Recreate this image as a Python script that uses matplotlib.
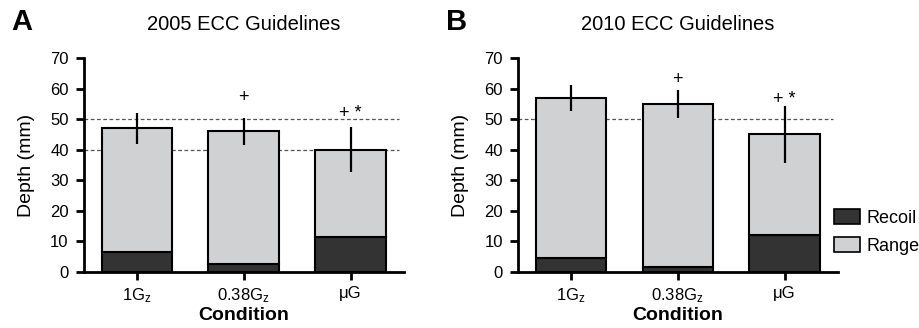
import matplotlib
matplotlib.use("Agg")
import matplotlib.pyplot as plt
from matplotlib.patches import Patch

plt.rcParams['font.family'] = ['Liberation Sans', 'DejaVu Sans']
plt.rcParams['mathtext.default'] = 'regular'

conditions = ['1G$_z$', '0.38G$_z$', 'μG']

# panel A: 2005 guidelines
total_2005 = [47, 46, 40]
recoil_2005 = [6.5, 2.5, 11.5]
err_2005 = [5, 4.5, 7.3]
marks_2005 = ['', '+', '+ *']
mark_y_2005 = [0, 57, 52]
guides_2005 = [40, 50]

# panel B: 2010 guidelines
total_2010 = [57, 55, 45]
recoil_2010 = [4.5, 1.5, 12]
err_2010 = [4.3, 4.5, 9.3]
marks_2010 = ['', '+', '+ *']
mark_y_2010 = [0, 63, 56.5]
guides_2010 = [50]

dark = '#333333'
light = '#d0d1d3'

fig = plt.figure(figsize=(9.19, 3.28), dpi=100)
axA = fig.add_axes([0.0914, 0.1707, 0.3482, 0.6524])
axB = fig.add_axes([0.5637, 0.1707, 0.3482, 0.6524])


def draw_panel(ax, total, recoil, err, marks, mark_y, guides, title, letter):
    x = list(range(len(conditions)))
    rng = [t - r for t, r in zip(total, recoil)]
    for g in guides:
        ax.axhline(g, color='#555555', lw=0.9, ls=(0, (3, 2)), zorder=1, xmax=0.985)
    ax.bar(x, recoil, width=0.66, color=dark, edgecolor='black', lw=1.5, zorder=2)
    ax.bar(x, rng, bottom=recoil, width=0.66, color=light, edgecolor='black', lw=1.5, zorder=2)
    ax.errorbar(x, total, yerr=err, fmt='none', ecolor='black', elinewidth=1.6, capsize=0, zorder=3)
    for xi, m, my in zip(x, marks, mark_y):
        if m:
            ax.text(xi, my, m, ha='center', va='center', fontsize=13)
    ax.set_xlim(-0.495, 2.5)
    ax.set_ylim(0, 70)
    ax.set_yticks(range(0, 71, 10))
    ax.set_xticks(x)
    ax.set_xticklabels(conditions)
    for s in ['top', 'right']:
        ax.spines[s].set_visible(False)
    for s in ['left', 'bottom']:
        ax.spines[s].set_linewidth(2)
    ax.tick_params(axis='both', width=2, length=6, labelsize=12, direction='out', pad=5)
    ax.tick_params(axis='x', pad=4)
    ax.set_ylabel('Depth (mm)', fontsize=14, labelpad=11)
    ax.set_xlabel('Condition', fontsize=14, fontweight='bold', labelpad=2)
    ax.set_title(title, fontsize=14.5, pad=20)
    ax.text(-0.226, 1.235, letter, transform=ax.transAxes, fontsize=21,
            fontweight='bold', va='top')


draw_panel(axA, total_2005, recoil_2005, err_2005, marks_2005, mark_y_2005,
           guides_2005, '2005 ECC Guidelines', 'A')
draw_panel(axB, total_2010, recoil_2010, err_2010, marks_2010, mark_y_2010,
           guides_2010, '2010 ECC Guidelines', 'B')

handles = [Patch(facecolor=dark, edgecolor='black', lw=1.2, label='Recoil'),
           Patch(facecolor=light, edgecolor='black', lw=1.2, label='Range')]
fig.legend(handles=handles, loc='lower left', bbox_to_anchor=(0.907, 0.222),
           frameon=False, fontsize=13, handlelength=1.45, handleheight=0.9,
           handletextpad=0.4, labelspacing=0.6, borderpad=0, borderaxespad=0)

fig.savefig('out.png', dpi=100)
